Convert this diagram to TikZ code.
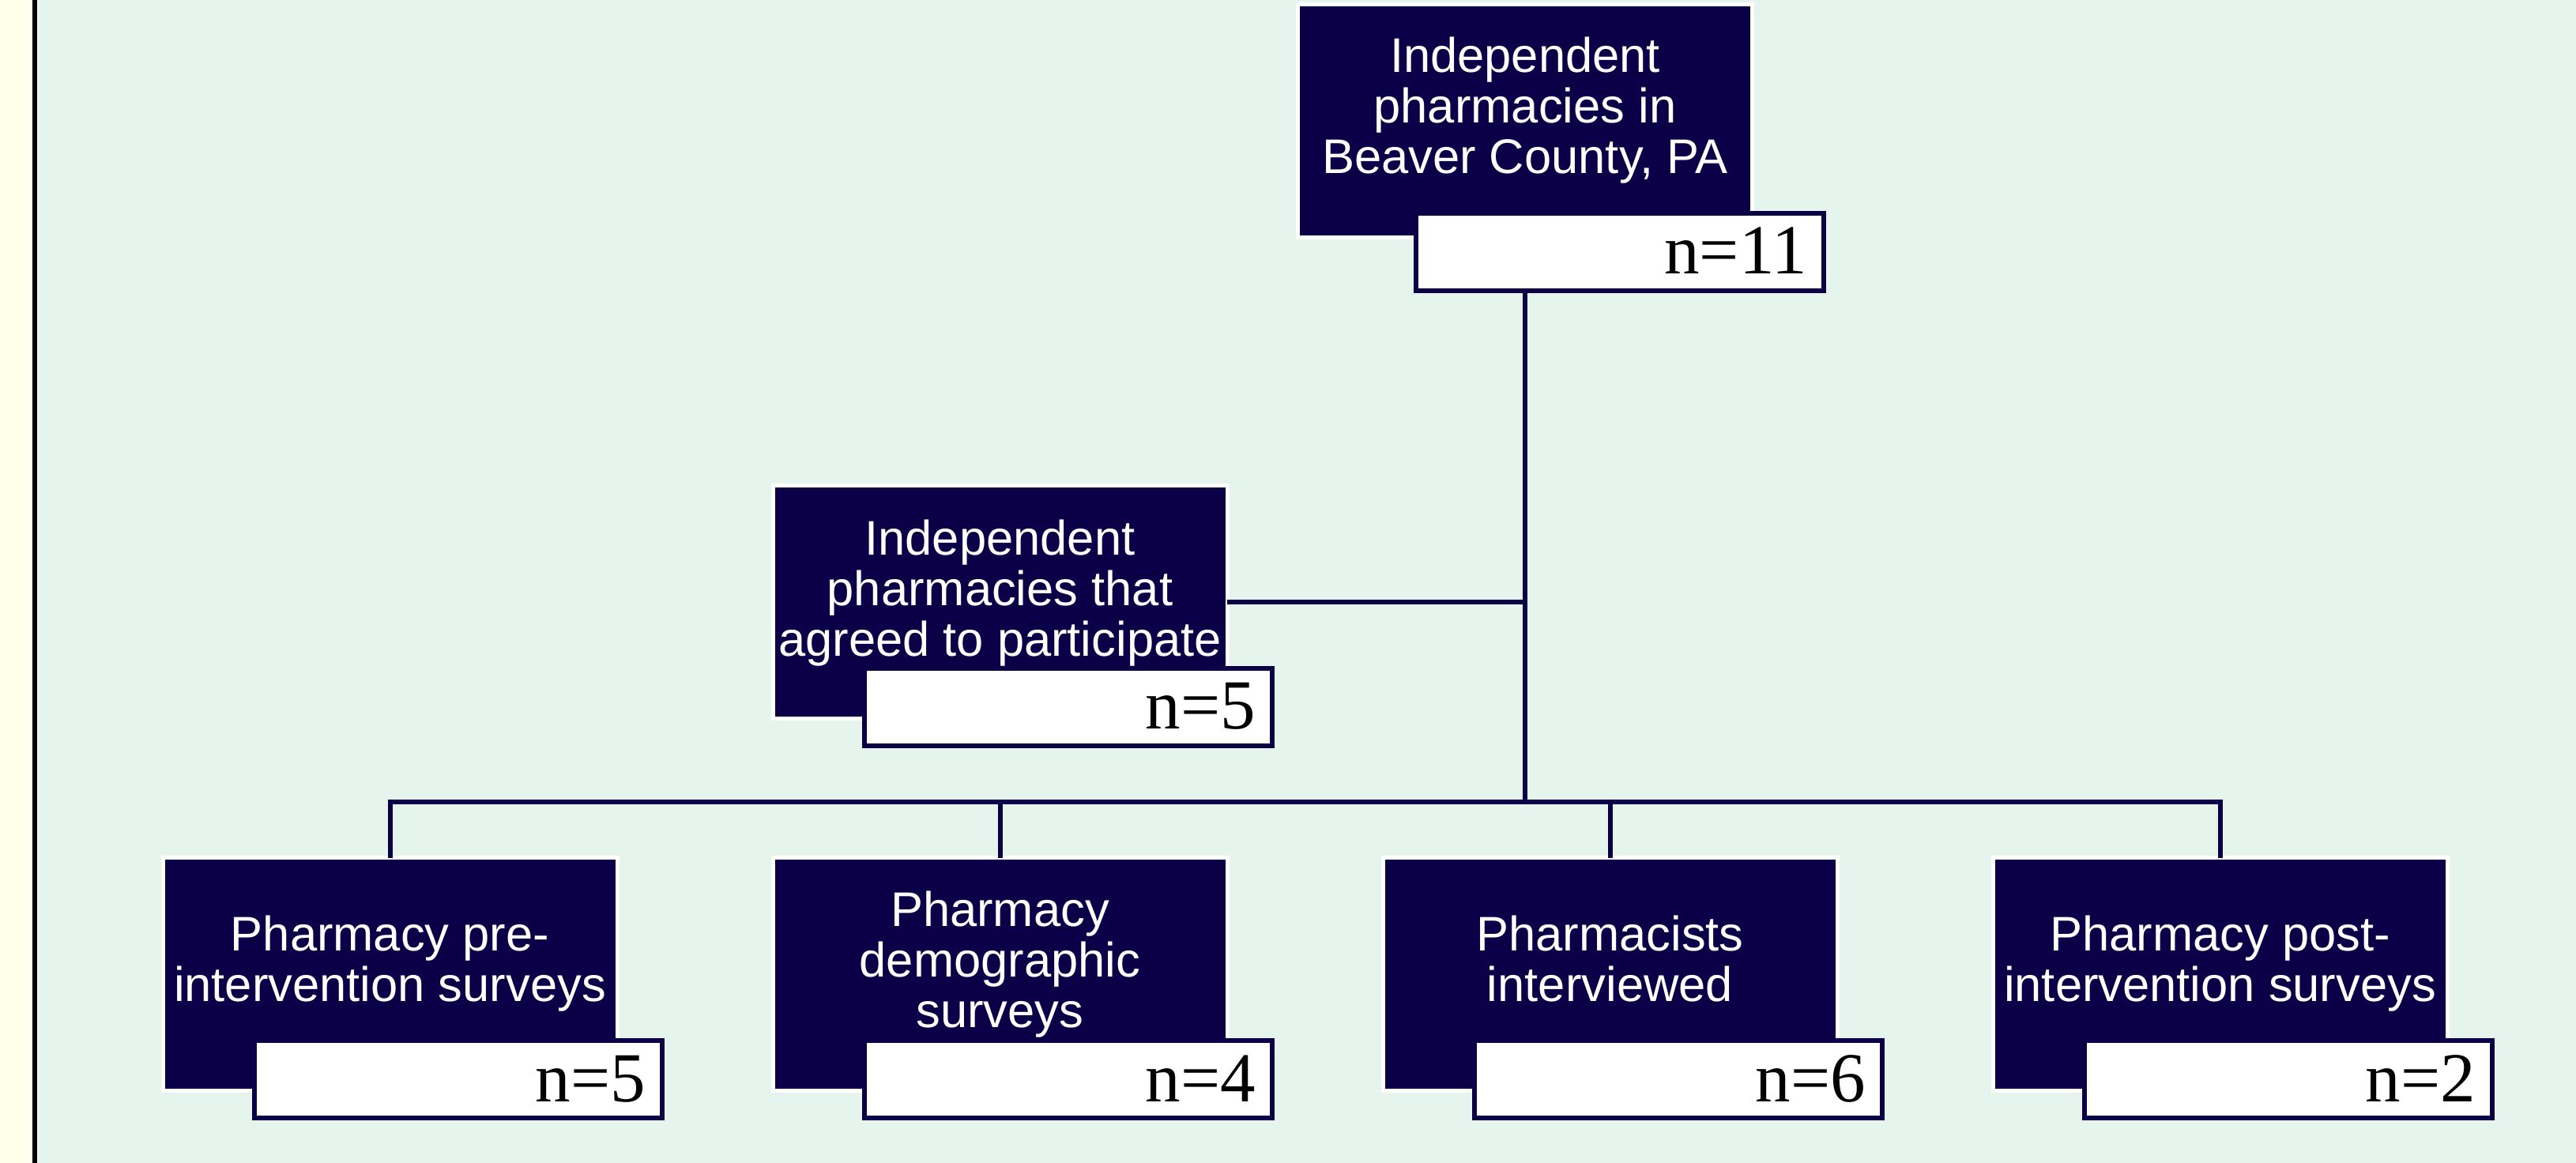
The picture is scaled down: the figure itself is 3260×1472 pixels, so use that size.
\documentclass[tikz,border=0pt]{standalone}
\usepackage{fontspec}
\setmainfont{Liberation Sans}
\newfontfamily\numfont{Liberation Serif}
\definecolor{navy}{RGB}{11,0,72}
\definecolor{mint}{RGB}{229,245,238}
\definecolor{cream}{RGB}{255,255,234}
\begin{document}
\begin{tikzpicture}[x=1pt,y=-1pt,
  box/.style={rectangle,fill=navy,draw=white,line width=5pt,minimum width=575pt,minimum height=295pt,anchor=north west,inner sep=0pt,outer sep=0pt},
  nbox/.style={rectangle,fill=white,draw=navy,line width=6pt,minimum width=516pt,minimum height=98pt,anchor=north west,inner sep=0pt,outer sep=0pt},
  txt/.style={anchor=north,inner sep=0pt,align=center,text=white,font=\fontsize{61.5}{64}\selectfont},
  num/.style={anchor=base east,inner sep=0pt,font=\numfont\fontsize{89}{89}\selectfont},
  link/.style={draw=navy,line width=6pt}]
\fill[cream] (0,0) rectangle (41,1472);
\fill[black] (41,0) rectangle (47,1472);
\fill[mint] (47,0) rectangle (3260,1472);
\useasboundingbox (0,0) rectangle (3260,1472);
\coordinate (bus) at (0,1015);

\node[box] (top) at (1642.5,5.5) {};
\node[nbox] (topN) at ([shift={(149.5,264)}]top.north west) {};
\node[txt] (topT) at ([yshift=-41pt]top.north) {Independent\\pharmacies in\\Beaver County, PA};
\node[num] (topV) at ([shift={(-21,-21)}]topN.south east) {n=11};

\node[box] (mid) at (978,614) {};
\node[nbox] (midN) at ([shift={(116,231.5)}]mid.north west) {};
\node[txt] (midT) at ([yshift=-44pt]mid.north) {Independent\\pharmacies that\\agreed to participate};
\node[num] (midV) at ([shift={(-21,-21)}]midN.south east) {n=5};

\node[box] (pre) at (206,1085.5) {};
\node[box] (demo) at (978,1085.5) {};
\node[box] (intv) at (1750,1085.5) {};
\node[box] (post) at (2522,1085.5) {};
\node[txt] (preT) at ([yshift=-73pt]pre.north) {Pharmacy pre-\\intervention surveys};
\node[txt] (demoT) at ([yshift=-42pt]demo.north) {Pharmacy\\demographic\\surveys};
\node[txt] (intvT) at ([yshift=-73pt]intv.north) {Pharmacists\\interviewed};
\node[txt] (postT) at ([yshift=-73pt]post.north) {Pharmacy post-\\intervention surveys};
\foreach \b/\n in {pre/5,demo/4,intv/6,post/2}{
  \node[nbox] (\b N) at ([shift={(116,231.5)}]\b.north west) {};
  \node[num] (\b V) at ([shift={(-21,-21)}]\b N.south east) {n=\n};
}

\draw[link] (top.south |- topN.south) -- (top.south |- bus);
\draw[link] (mid.east) -- (mid.east -| top.south);
\draw[link] (pre.north) -- (pre.north |- bus) -| (post.north);
\foreach \b in {demo,intv} \draw[link] (\b.north) -- (\b.north |- bus);
\end{tikzpicture}
\end{document}
